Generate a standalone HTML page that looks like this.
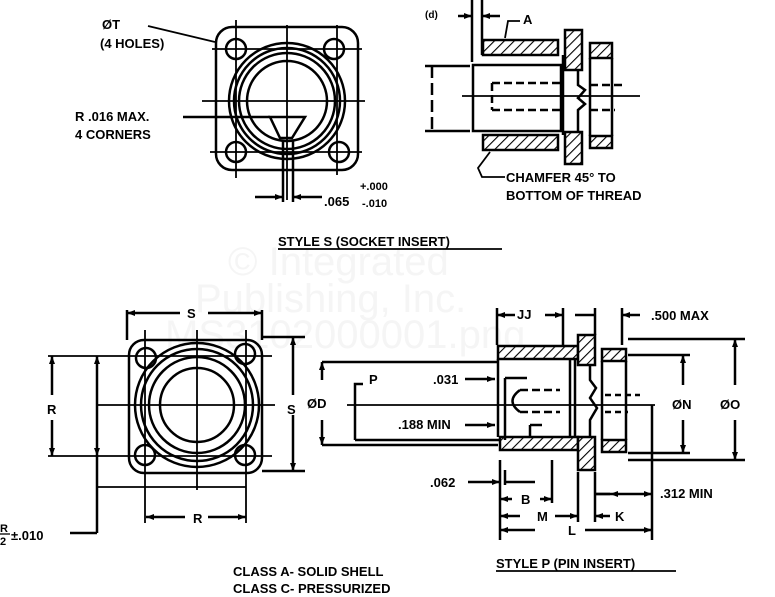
<!DOCTYPE html>
<html><head><meta charset="utf-8"><style>
html,body{margin:0;padding:0;background:#fff;}
svg{display:block}
text{font-family:"Liberation Sans",sans-serif;font-weight:bold;fill:#000;}
</style></head><body>
<svg width="775" height="597" viewBox="0 0 775 597" xmlns="http://www.w3.org/2000/svg">
<defs>
<pattern id="h" width="7" height="7" patternUnits="userSpaceOnUse" patternTransform="rotate(45)">
<rect width="7" height="7" fill="#fff"/><line x1="0" y1="0" x2="0" y2="7" stroke="#000" stroke-width="2.2"/></pattern>
<marker id="a" markerWidth="8" markerHeight="6" refX="8" refY="3" orient="auto" markerUnits="userSpaceOnUse"><path d="M0,0 L8,3 L0,6z"/></marker>
</defs>
<!-- watermark -->
<g font-size="40">
<text x="228" y="275" style="fill:#f5f5f5;font-weight:normal">© Integrated</text>
<text x="195" y="312" style="fill:#f5f5f5;font-weight:normal">Publishing, Inc.</text>
<text x="165" y="348" style="fill:#f5f5f5;font-weight:normal">MS3102000001.png</text>
</g>
<g stroke="#000" fill="none" stroke-width="2.5">
<!-- TOP LEFT flange -->
<rect x="216" y="27" width="142" height="143" rx="16"/>
<circle cx="236" cy="49" r="10"/><circle cx="334" cy="49" r="10"/>
<circle cx="236" cy="152" r="10"/><circle cx="339" cy="152" r="10"/>
<circle cx="287" cy="101" r="58"/><circle cx="287" cy="101" r="53"/><circle cx="287" cy="101" r="48"/><circle cx="287" cy="101" r="40"/>
<line x1="287" y1="25" x2="287" y2="200" stroke-width="1.8"/>
<line x1="202" y1="101" x2="365" y2="101" stroke-width="1.8"/>
<line x1="212" y1="49" x2="362" y2="49" stroke-width="1.8"/><line x1="210" y1="152" x2="362" y2="152" stroke-width="1.8"/>
<line x1="236" y1="20" x2="236" y2="178" stroke-width="1.8"/><line x1="337" y1="25" x2="337" y2="175" stroke-width="1.8"/>
<path d="M270,117 L305,117 L292,138 L280,138 Z"/>
<line x1="183" y1="117" x2="270" y2="117"/>
<line x1="148" y1="26" x2="215" y2="42" stroke-width="1.8"/>
<line x1="283" y1="140" x2="283" y2="202"/><line x1="293" y1="140" x2="293" y2="202"/>
<line x1="255" y1="197" x2="283" y2="197" marker-end="url(#a)"/><line x1="322" y1="197" x2="293" y2="197" marker-end="url(#a)"/>
<!-- TOP RIGHT section -->
<line x1="472" y1="0" x2="472" y2="62"/><line x1="482" y1="0" x2="482" y2="55"/>
<line x1="458" y1="16" x2="472" y2="16" marker-end="url(#a)"/><line x1="500" y1="16" x2="482" y2="16" marker-end="url(#a)"/>
<path d="M505,38 L508,21 L520,21" stroke-width="1.8"/>
<rect x="483" y="40" width="75" height="15" fill="url(#h)"/>
<rect x="483" y="135" width="75" height="15" fill="url(#h)"/>
<rect x="565" y="30" width="17" height="40" fill="url(#h)"/>
<rect x="565" y="132" width="17" height="32" fill="url(#h)"/>
<rect x="590" y="43" width="22" height="15" fill="url(#h)"/>
<rect x="590" y="136" width="22" height="12" fill="url(#h)"/>
<line x1="612" y1="58" x2="612" y2="136"/><line x1="590" y1="58" x2="590" y2="136"/>
<rect x="473" y="65" width="88" height="66"/>
<line x1="563" y1="55" x2="563" y2="135"/>
<path d="M578,70 L578,85 L585,90 L578,98 L585,104 L578,110 L578,132"/>
<path d="M492,83 L560,83 M492,110 L560,110 M492,83 L492,110" stroke-dasharray="8,4"/>
<path d="M590,85 L625,85 M590,110 L615,110" stroke-dasharray="8,4"/>
<line x1="462" y1="96" x2="640" y2="96" stroke-width="1.8"/>
<line x1="432" y1="66" x2="432" y2="131" stroke-dasharray="12,5"/>
<line x1="425" y1="66" x2="470" y2="66"/><line x1="425" y1="131" x2="470" y2="131"/>
<path d="M490,152 L478,168 L482,177 L505,177" stroke-width="1.8"/>
<!-- BOTTOM LEFT flange -->
<rect x="129" y="340" width="133" height="133" rx="15"/>
<circle cx="146" cy="358" r="10"/><circle cx="245" cy="354" r="10"/>
<circle cx="145" cy="455" r="10"/><circle cx="245" cy="455" r="10"/>
<circle cx="197" cy="405" r="62"/><circle cx="197" cy="405" r="56"/><circle cx="197" cy="405" r="48"/><circle cx="197" cy="405" r="37"/>
<line x1="197" y1="330" x2="197" y2="490" stroke-width="1.8"/>
<line x1="98" y1="405" x2="275" y2="405" stroke-width="1.8"/>
<line x1="48" y1="356" x2="272" y2="356" stroke-width="1.8"/><line x1="48" y1="456" x2="272" y2="456" stroke-width="1.8"/>
<line x1="145" y1="330" x2="145" y2="523" stroke-width="1.8"/><line x1="246" y1="330" x2="246" y2="523" stroke-width="1.8"/>
<line x1="127" y1="310" x2="127" y2="340"/><line x1="262" y1="310" x2="262" y2="340"/>
<line x1="180" y1="313" x2="127" y2="313" marker-end="url(#a)"/><line x1="208" y1="313" x2="262" y2="313" marker-end="url(#a)"/>
<line x1="262" y1="337" x2="305" y2="337"/><line x1="262" y1="471" x2="305" y2="471"/>
<line x1="293" y1="395" x2="293" y2="337" marker-end="url(#a)"/><line x1="293" y1="415" x2="293" y2="471" marker-end="url(#a)"/>
<line x1="52" y1="395" x2="52" y2="356" marker-end="url(#a)"/><line x1="52" y1="420" x2="52" y2="456" marker-end="url(#a)"/>
<line x1="97" y1="405" x2="97" y2="356" marker-end="url(#a)"/><line x1="97" y1="405" x2="97" y2="456" marker-end="url(#a)"/>
<line x1="97" y1="456" x2="97" y2="533"/><line x1="70" y1="533" x2="97" y2="533"/>
<line x1="97" y1="487" x2="246" y2="487" stroke-width="1.8"/>
<line x1="185" y1="517" x2="146" y2="517" marker-end="url(#a)"/><line x1="208" y1="517" x2="246" y2="517" marker-end="url(#a)"/>
<!-- BOTTOM RIGHT section -->
<rect x="498" y="346" width="80" height="13" fill="url(#h)"/>
<rect x="500" y="437" width="78" height="13" fill="url(#h)"/>
<rect x="578" y="335" width="17" height="30" fill="url(#h)"/>
<rect x="578" y="437" width="17" height="33" fill="url(#h)"/>
<rect x="602" y="349" width="24" height="12" fill="url(#h)"/>
<rect x="602" y="440" width="24" height="12" fill="url(#h)"/>
<line x1="602" y1="361" x2="602" y2="440"/><line x1="626" y1="361" x2="626" y2="440"/>
<line x1="498" y1="359" x2="498" y2="437"/>
<line x1="570" y1="359" x2="570" y2="437"/><line x1="575" y1="359" x2="575" y2="437"/>
<path d="M590,365 L590,380 L596,388 L590,398 L597,408 L590,420 L590,437"/>
<path d="M520,390 L560,390 M520,412 L560,412" stroke-dasharray="8,4"/>
<path d="M520,390 Q505,401 520,412"/>
<path d="M605,395 L640,395 M605,412 L628,412" stroke-dasharray="6,4"/>
<line x1="347" y1="405" x2="655" y2="405" stroke-width="1.8"/>
<line x1="322" y1="362" x2="498" y2="362"/><line x1="322" y1="445" x2="498" y2="445"/>
<line x1="322" y1="380" x2="322" y2="362" marker-end="url(#a)"/><line x1="322" y1="420" x2="322" y2="445" marker-end="url(#a)"/>
<path d="M355,440 L355,384 L363,384"/><line x1="355" y1="440" x2="500" y2="440"/>
<line x1="465" y1="379" x2="495" y2="379" marker-end="url(#a)"/>
<line x1="465" y1="425" x2="495" y2="425" marker-end="url(#a)"/>
<line x1="505" y1="378" x2="527" y2="378"/><line x1="505" y1="378" x2="505" y2="440"/>
<line x1="530" y1="425" x2="530" y2="438"/><line x1="530" y1="425" x2="542" y2="425"/>
<line x1="497" y1="308" x2="497" y2="345"/><line x1="563" y1="308" x2="563" y2="345"/><line x1="595" y1="308" x2="595" y2="335"/>
<line x1="515" y1="315" x2="497" y2="315" marker-end="url(#a)"/><line x1="545" y1="315" x2="563" y2="315" marker-end="url(#a)"/>
<line x1="575" y1="315" x2="595" y2="315"/>
<line x1="622" y1="308" x2="622" y2="345"/>
<line x1="640" y1="315" x2="622" y2="315" marker-end="url(#a)"/>
<line x1="628" y1="339" x2="745" y2="339"/><line x1="628" y1="460" x2="745" y2="460"/>
<line x1="735" y1="385" x2="735" y2="339" marker-end="url(#a)"/><line x1="735" y1="420" x2="735" y2="460" marker-end="url(#a)"/>
<line x1="628" y1="355" x2="690" y2="355"/><line x1="628" y1="453" x2="690" y2="453"/>
<line x1="683" y1="385" x2="683" y2="355" marker-end="url(#a)"/><line x1="683" y1="420" x2="683" y2="453" marker-end="url(#a)"/>
<line x1="500" y1="460" x2="500" y2="540"/><line x1="505" y1="470" x2="505" y2="485"/><line x1="505" y1="482" x2="535" y2="482"/>
<line x1="468" y1="482" x2="500" y2="482" marker-end="url(#a)"/>
<line x1="552" y1="460" x2="552" y2="503"/>
<line x1="578" y1="472" x2="578" y2="522"/><line x1="595" y1="472" x2="595" y2="522"/>
<line x1="652" y1="405" x2="652" y2="540"/>
<line x1="512" y1="499" x2="500" y2="499" marker-end="url(#a)"/><line x1="540" y1="499" x2="552" y2="499" marker-end="url(#a)"/>
<line x1="520" y1="516" x2="500" y2="516" marker-end="url(#a)"/><line x1="555" y1="516" x2="578" y2="516" marker-end="url(#a)"/>
<line x1="610" y1="516" x2="595" y2="516" marker-end="url(#a)"/>
<line x1="610" y1="494" x2="595" y2="494" marker-start="url(#a)"/><line x1="595" y1="494" x2="652" y2="494" marker-end="url(#a)"/>
<line x1="535" y1="530" x2="500" y2="530" marker-end="url(#a)"/><line x1="585" y1="530" x2="652" y2="530" marker-end="url(#a)"/>
<line x1="278" y1="249" x2="502" y2="249" stroke-width="1.8"/>
<line x1="496" y1="571" x2="676" y2="571" stroke-width="1.8"/>
</g>
<g font-size="13">
<text x="102" y="29">ØT</text>
<text x="100" y="48">(4 HOLES)</text>
<text x="75" y="121">R .016 MAX.</text>
<text x="75" y="139">4 CORNERS</text>
<text x="324" y="206">.065</text>
<text x="360" y="190" font-size="11">+.000</text>
<text x="362" y="207" font-size="11">-.010</text>
<text x="425" y="18" font-size="10">(d)</text>
<text x="523" y="24">A</text>
<text x="506" y="182">CHAMFER 45° TO</text>
<text x="506" y="200">BOTTOM OF THREAD</text>
<text x="278" y="246">STYLE S (SOCKET INSERT)</text>
<text x="187" y="318">S</text>
<text x="47" y="414">R</text>
<text x="287" y="414">S</text>
<text x="193" y="523">R</text>
<text x="0" y="532" font-size="11">R</text>
<line x1="0" y1="534" x2="10" y2="534" stroke="#000" stroke-width="1.3"/>
<text x="0" y="545" font-size="11">2</text>
<text x="11" y="540">±.010</text>
<text x="233" y="576">CLASS A- SOLID SHELL</text>
<text x="233" y="593">CLASS C- PRESSURIZED</text>
<text x="517" y="319">JJ</text>
<text x="651" y="320">.500 MAX</text>
<text x="369" y="384">P</text>
<text x="307" y="408">ØD</text>
<text x="433" y="384">.031</text>
<text x="398" y="429">.188 MIN</text>
<text x="672" y="409">ØN</text>
<text x="720" y="409">ØO</text>
<text x="430" y="487">.062</text>
<text x="521" y="504">B</text>
<text x="537" y="521">M</text>
<text x="568" y="535">L</text>
<text x="615" y="521">K</text>
<text x="660" y="498">.312 MIN</text>
<text x="496" y="568">STYLE P (PIN INSERT)</text>
</g>
</svg>
</body></html>
